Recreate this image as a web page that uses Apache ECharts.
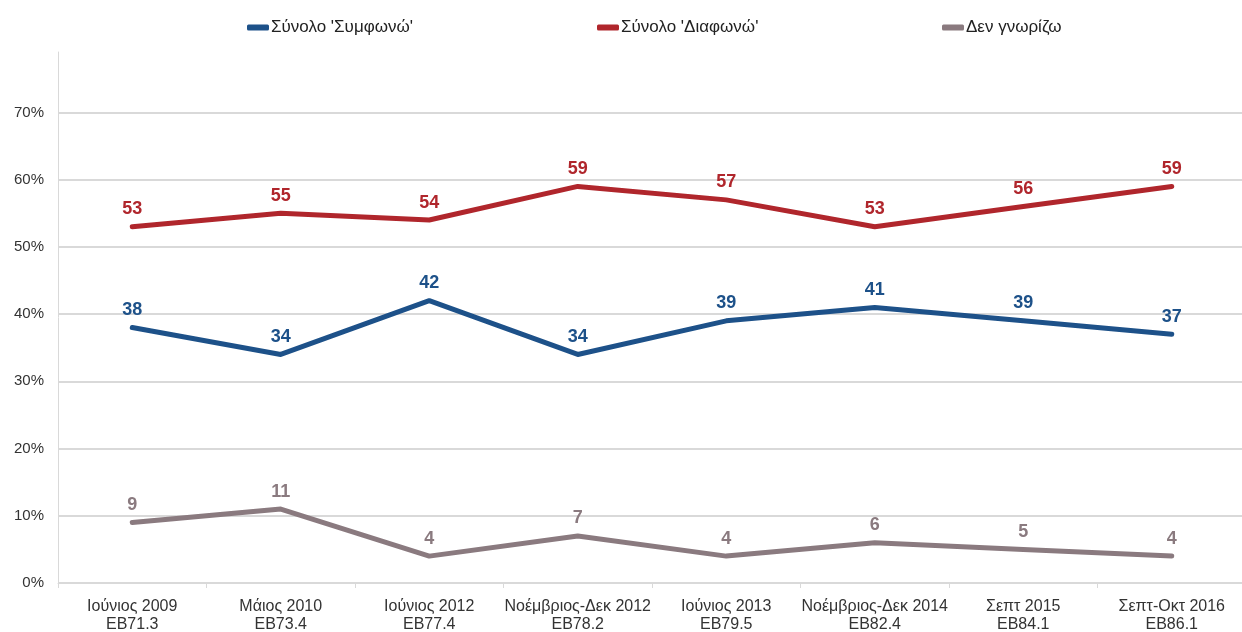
<!DOCTYPE html>
<html><head><meta charset="utf-8">
<script src="https://cdn.jsdelivr.net/npm/echarts@6/dist/echarts.min.js"></script>
<style>html,body{margin:0;padding:0;background:#fff}#c{width:1242px;height:632px}</style>
</head><body><div id="c"></div>
<script>
const periods = ['Ιούνιος 2009','Μάιος 2010','Ιούνιος 2012','Νοέμβριος-Δεκ 2012','Ιούνιος 2013','Νοέμβριος-Δεκ 2014','Σεπτ 2015','Σεπτ-Οκτ 2016'];
const waves = ['EB71.3','EB73.4','EB77.4','EB78.2','EB79.5','EB82.4','EB84.1','EB86.1'];
const agree = [38,34,42,34,39,41,39,37];
const disagree = [53,55,54,59,57,53,56,59];
const dontKnow = [9,11,4,7,4,6,5,4];
const seriesNames = ["Σύνολο 'Συμφωνώ'", "Σύνολο 'Διαφωνώ'", "Δεν γνωρίζω"];
const colors = ['#1d5189','#b0262c','#8a7a7f'];
const yTicks = [0,10,20,30,40,50,60,70];

const categories = periods.map((p,i)=>p+'\n'+waves[i]);
const font = '"Liberation Sans", Arial, sans-serif';
const chart = echarts.init(document.getElementById('c'), null, {renderer:'canvas'});

function mkSeries(name, data, color){
  return {
    name, type:'line', data, color,
    symbol:'circle', symbolSize:1, showSymbol:true,
    lineStyle:{width:5, color, cap:'round', join:'round'},
    itemStyle:{color},
    label:{show:true, position:'top', distance:8, color, fontFamily:font, fontWeight:'bold', fontSize:18},
    emphasis:{disabled:true}, animation:false
  };
}
const legendBase = {top:19, padding:0, itemWidth:22, itemHeight:6, icon:'roundRect', itemGap:0,
  textStyle:{fontFamily:font, fontSize:17, color:'#222', padding:[0,0,0,-3]}};
const legendLeft = [247, 597, 942];

chart.setOption({
  animation:false,
  backgroundColor:'#fff',
  legend: seriesNames.map((n,i)=>Object.assign({}, legendBase, {left:legendLeft[i], data:[n]})),
  grid:{left:58, width:1188, top:52, bottom:49, containLabel:false, outerBoundsMode:'none'},
  xAxis:{
    type:'category', data:categories, boundaryGap:true,
    axisLine:{lineStyle:{color:'#d9d9d9', width:1}},
    axisTick:{show:true, length:5, lineStyle:{color:'#d9d9d9'}},
    axisLabel:{fontFamily:font, fontSize:16, color:'#333', lineHeight:18, margin:15, interval:0}
  },
  yAxis:{
    type:'value', min:0, max:79, interval:10,
    axisLine:{show:true, lineStyle:{color:'#d9d9d9'}},
    axisTick:{show:false},
    axisLabel:{fontFamily:font, fontSize:15, color:'#333', margin:14,
      formatter:v=> yTicks.indexOf(v)>=0 ? v+'%' : ''},
    splitLine:{show:true, lineStyle:{color:['#d9d9d9','#d9d9d9','#d9d9d9','#d9d9d9','#d9d9d9','#d9d9d9','#d9d9d9','#d9d9d9','rgba(0,0,0,0)'], width:2}}
  },
  series:[mkSeries(seriesNames[0], agree, colors[0]), mkSeries(seriesNames[1], disagree, colors[1]), mkSeries(seriesNames[2], dontKnow, colors[2])]
});
</script></body></html>
